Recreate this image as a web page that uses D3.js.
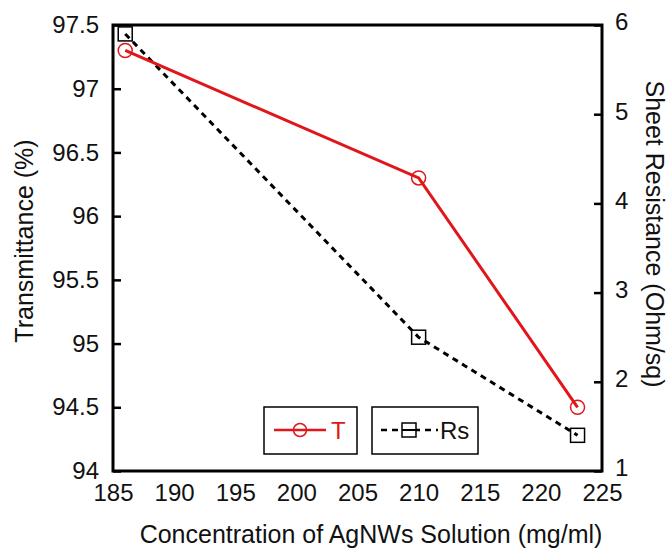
<!DOCTYPE html>
<html><head><meta charset="utf-8">
<script src="https://cdn.jsdelivr.net/npm/d3@7"></script>
<style>body{margin:0;background:#fff}svg{display:block}text{font-family:Arial,"Liberation Sans",sans-serif}</style>
</head><body>
<svg id="c" width="668" height="552"></svg>
<script>
const concentration = [186, 210, 223];
const transmittance = [97.3, 96.3, 94.5];
const sheetResistance = [5.9, 2.5, 1.4];
const xTicks = [185, 190, 195, 200, 205, 210, 215, 220, 225];
const yLeftTicks = [94, 94.5, 95, 95.5, 96, 96.5, 97, 97.5];
const yRightTicks = [1, 2, 3, 4, 5, 6];

const svg = d3.select("#c");
const L = 113, R = 602, T = 25, B = 471;
const x = d3.scaleLinear().domain([185, 225]).range([L, R]);
const yL = d3.scaleLinear().domain([94, 97.5]).range([B, T]);
const yR = d3.scaleLinear().domain([1, 6]).range([B, T]);
const fs = 24, tfs = 25;

// left axis
const gl = svg.append("g").attr("transform", `translate(${L},0)`)
  .call(d3.axisLeft(yL).tickValues(yLeftTicks).tickFormat(d3.format("")).tickSize(-8).tickPadding(14));
gl.select(".domain").remove();
gl.selectAll("line").attr("stroke", "#000").attr("stroke-width", 2.5);
gl.selectAll("text").attr("font-size", fs).attr("fill", "#111");

// right axis
const gr = svg.append("g").attr("transform", `translate(${R},0)`)
  .call(d3.axisRight(yR).tickValues(yRightTicks).tickFormat(d3.format("d")).tickSize(-8).tickPadding(13));
gr.select(".domain").remove();
gr.selectAll("line").attr("stroke", "#000").attr("stroke-width", 2.5);
gr.selectAll("text").attr("font-size", fs).attr("fill", "#111").attr("dy", "0.2em");

// bottom axis
const gb = svg.append("g").attr("transform", `translate(0,${B})`)
  .call(d3.axisBottom(x).tickValues(xTicks).tickFormat(d3.format("d")).tickSize(0).tickPadding(13));
gb.select(".domain").remove();
gb.selectAll("text").attr("font-size", fs).attr("fill", "#111");

// frame
svg.append("rect").attr("x", L).attr("y", T).attr("width", R - L).attr("height", B - T)
  .attr("fill", "none").attr("stroke", "#000").attr("stroke-width", 3);

// titles
svg.append("text").attr("x", 371).attr("y", 543).attr("text-anchor", "middle")
  .attr("font-size", tfs).attr("fill", "#111").text("Concentration of AgNWs Solution (mg/ml)");
svg.append("text").attr("transform", "translate(33,241) rotate(-90)").attr("text-anchor", "middle")
  .attr("font-size", tfs).attr("fill", "#111").text("Transmittance (%)");
svg.append("text").attr("transform", "translate(646,234) rotate(90)").attr("text-anchor", "middle")
  .attr("font-size", tfs).attr("fill", "#111").text("Sheet Resistance (Ohm/sq)");

const red = "#e0161b";
const tData = concentration.map((c, i) => [c, transmittance[i]]);
const rData = concentration.map((c, i) => [c, sheetResistance[i]]);

svg.append("path").datum(rData)
  .attr("d", d3.line().x(d => x(d[0])).y(d => yR(d[1])))
  .attr("fill", "none").attr("stroke", "#000").attr("stroke-width", 3).attr("stroke-dasharray", "6,5");
svg.append("path").datum(tData)
  .attr("d", d3.line().x(d => x(d[0])).y(d => yL(d[1])))
  .attr("fill", "none").attr("stroke", red).attr("stroke-width", 3);

svg.selectAll(".sq").data(rData).join("rect")
  .attr("x", d => x(d[0]) - 7).attr("y", d => yR(d[1]) - 7).attr("width", 14).attr("height", 14)
  .attr("fill", "none").attr("stroke", "#000").attr("stroke-width", 1.5);
svg.selectAll(".ci").data(tData).join("circle")
  .attr("cx", d => x(d[0])).attr("cy", d => yL(d[1])).attr("r", 7)
  .attr("fill", "none").attr("stroke", red).attr("stroke-width", 1.5);

// legend
const lg = svg.append("g");
lg.append("rect").attr("x", 264).attr("y", 407).attr("width", 93).attr("height", 47)
  .attr("fill", "#fff").attr("stroke", "#000").attr("stroke-width", 1.5);
lg.append("line").attr("x1", 274).attr("x2", 326).attr("y1", 430).attr("y2", 430).attr("stroke", red).attr("stroke-width", 2.5);
lg.append("circle").attr("cx", 300).attr("cy", 430).attr("r", 6.5).attr("fill", "none").attr("stroke", red).attr("stroke-width", 1.5);
lg.append("text").attr("x", 331).attr("y", 439).attr("font-size", fs).attr("fill", red).text("T");
lg.append("rect").attr("x", 372).attr("y", 407).attr("width", 106).attr("height", 47)
  .attr("fill", "#fff").attr("stroke", "#000").attr("stroke-width", 1.5);
lg.append("line").attr("x1", 381).attr("x2", 438).attr("y1", 430).attr("y2", 430).attr("stroke", "#000").attr("stroke-width", 2.5).attr("stroke-dasharray", "6,5");
lg.append("rect").attr("x", 402).attr("y", 423).attr("width", 14).attr("height", 14).attr("fill", "#fff").attr("stroke", "#000").attr("stroke-width", 1.5);
lg.append("line").attr("x1", 402).attr("x2", 416).attr("y1", 430).attr("y2", 430).attr("stroke", "#000").attr("stroke-width", 2);
lg.append("text").attr("x", 440).attr("y", 439).attr("font-size", fs).attr("fill", "#111").text("Rs");
</script>
</body></html>
